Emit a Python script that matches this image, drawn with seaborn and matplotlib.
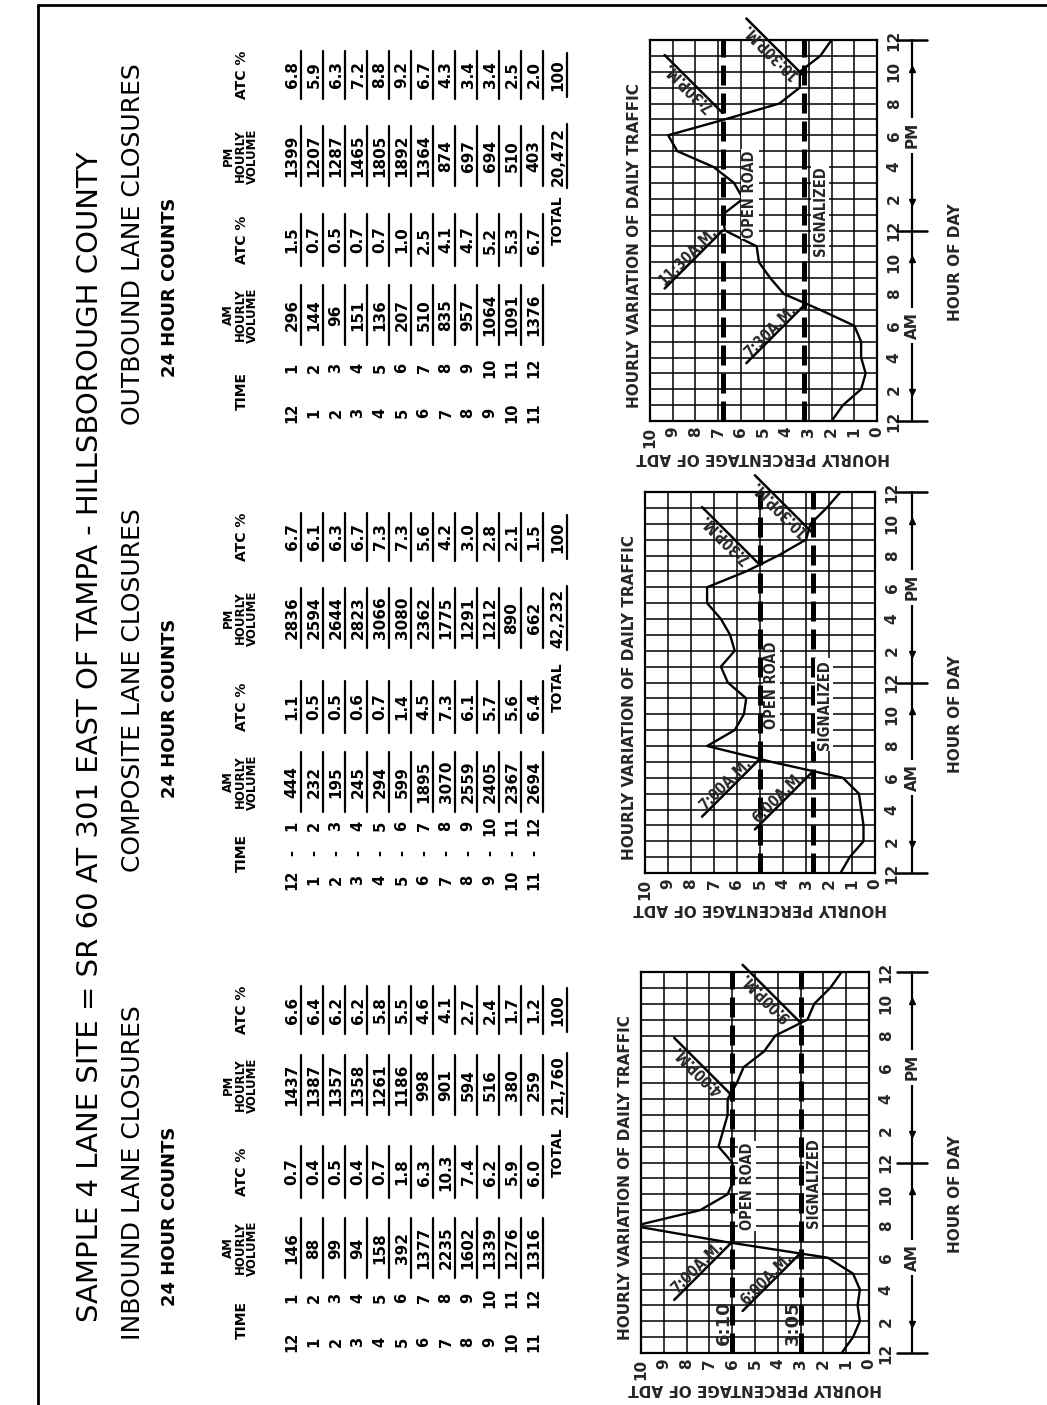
import numpy as np
import pandas as pd
import matplotlib
matplotlib.use("Agg")
import matplotlib.pyplot as plt
import seaborn as sns
from matplotlib.transforms import blended_transform_factory

# ---- data ----
time_start = [12, 1, 2, 3, 4, 5, 6, 7, 8, 9, 10, 11]
time_end = [1, 2, 3, 4, 5, 6, 7, 8, 9, 10, 11, 12]

in_am_vol = [146, 88, 99, 94, 158, 392, 1377, 2235, 1602, 1339, 1276, 1316]
in_am_pct = [0.7, 0.4, 0.5, 0.4, 0.7, 1.8, 6.3, 10.3, 7.4, 6.2, 5.9, 6.0]
in_pm_vol = [1437, 1387, 1357, 1358, 1261, 1186, 998, 901, 594, 516, 380, 259]
in_pm_pct = [6.6, 6.4, 6.2, 6.2, 5.8, 5.5, 4.6, 4.1, 2.7, 2.4, 1.7, 1.2]
in_total = "21,760"

co_am_vol = [444, 232, 195, 245, 294, 599, 1895, 3070, 2559, 2405, 2367, 2694]
co_am_pct = [1.1, 0.5, 0.5, 0.6, 0.7, 1.4, 4.5, 7.3, 6.1, 5.7, 5.6, 6.4]
co_pm_vol = [2836, 2594, 2644, 2823, 3066, 3080, 2362, 1775, 1291, 1212, 890, 662]
co_pm_pct = [6.7, 6.1, 6.3, 6.7, 7.3, 7.3, 5.6, 4.2, 3.0, 2.8, 2.1, 1.5]
co_total = "42,232"

out_am_vol = [296, 144, 96, 151, 136, 207, 510, 835, 957, 1064, 1091, 1376]
out_am_pct = [1.5, 0.7, 0.5, 0.7, 0.7, 1.0, 2.5, 4.1, 4.7, 5.2, 5.3, 6.7]
out_pm_vol = [1399, 1207, 1287, 1465, 1805, 1892, 1364, 874, 697, 694, 510, 403]
out_pm_pct = [6.8, 5.9, 6.3, 7.2, 8.8, 9.2, 6.7, 4.3, 3.4, 3.4, 2.5, 2.0]
out_total = "20,472"

hour_labels = ["12", "2", "4", "6", "8", "10", "12", "2", "4", "6", "8", "10", "12"]
pct_labels = ["0", "1", "2", "3", "4", "5", "6", "7", "8", "9", "10"]

# open road / signalized levels, and the marked crossing times
in_levels = [6.0, 3.0]
co_levels = [5.0, 2.7]
out_levels = [6.8, 3.2]
in_calls = ["7:00A.M.", "6:00A.M.", "4:00P.M.", "9:00P.M."]
co_calls = ["7:00A.M.", "6:00A.M.", "7:30P.M.", "10:30P.M."]
out_calls = ["11:30A.M.", "7:30A.M.", "7:30P.M.", "10:30P.M."]
# where each leader touches the curve (hour of day on the chart)
in_call_at = [7.0, 6.3, 16.2, 20.8]
co_call_at = [7.2, 6.4, 19.4, 21.4]
out_call_at = [12.0, 7.3, 19.4, 21.7]

W, H = 1047, 1405

sns.set_theme(style="white")
plt.rcParams["font.family"] = ["DejaVu Sans"]

fig = plt.figure(figsize=(W / 100, H / 100), dpi=100)
page = fig.add_axes([0, 0, 1, 1])
page.set_xlim(0, W)
page.set_ylim(H, 0)
page.axis("off")


def ptext(x, y, s, size, weight="bold", va="center", ha="center", rot=90, **kw):
    page.text(x, y, s, rotation=rot, fontsize=size, fontweight=weight,
              ha=ha, va=va, color="black", **kw)


# frame
page.plot([38, 38], [5, H], color="black", lw=2)
page.plot([38, W], [5, 5], color="black", lw=2)

# titles
ptext(90, 1322, "SAMPLE 4 LANE SITE = SR 60 AT 301 EAST OF TAMPA - HILLSBOROUGH COUNTY",
      21, weight="normal", va="bottom")
ptext(133, 1340, "INBOUND LANE CLOSURES", 18, weight="normal", va="bottom")
ptext(133, 872, "COMPOSITE LANE CLOSURES", 18, weight="normal", va="bottom")
ptext(133, 425, "OUTBOUND LANE CLOSURES", 18, weight="normal", va="bottom")
ptext(170, 1216, "24 HOUR COUNTS", 13)
ptext(170, 708, "24 HOUR COUNTS", 13)
ptext(170, 287, "24 HOUR COUNTS", 13)

ROW_X0, ROW_DX = 292, 22


def draw_table(cols, am_vol, am_pct, pm_vol, pm_pct, total, dash):
    t_start, t_end, c_am, c_amp, c_pm, c_pmp = cols
    ptext(242, (t_start + t_end) / 2, "TIME", 10)
    for c in (c_am, c_pm):
        ptext(228, c, "PM" if c == c_pm else "AM", 8.5)
        ptext(240, c, "HOURLY", 8.5)
        ptext(252, c, "VOLUME", 8.5)
    for c in (c_amp, c_pmp):
        ptext(242, c, "ATC %", 10)
    for i in range(12):
        x = ROW_X0 + i * ROW_DX
        ptext(x, t_start, str(time_start[i]), 10.5)
        ptext(x, t_end, str(time_end[i]), 10.5)
        if dash:
            ptext(x, (t_start + t_end) / 2, "-", 10.5)
        cells = [(c_am, str(am_vol[i]), 30), (c_amp, f"{am_pct[i]:.1f}", 26),
                 (c_pm, str(pm_vol[i]), 30), (c_pmp, f"{pm_pct[i]:.1f}", 24)]
        for yc, s, w in cells:
            ptext(x, yc, s, 11)
            page.plot([x + 9, x + 9], [yc - w, yc + w], color="black", lw=1.6)
    x = ROW_X0 + 12 * ROW_DX + 2
    ptext(x, c_amp - 20, "TOTAL", 10)
    ptext(x, c_pm, total, 11)
    ptext(x, c_pmp, "100", 11)
    page.plot([x + 9, x + 9], [c_pm - 32, c_pm + 32], color="black", lw=1.6)
    page.plot([x + 9, x + 9], [c_pmp - 22, c_pmp + 22], color="black", lw=1.6)


draw_table((1342, 1298, 1248, 1172, 1085, 1010), in_am_vol, in_am_pct,
           in_pm_vol, in_pm_pct, in_total, False)
draw_table((880, 826, 782, 707, 618, 537), co_am_vol, co_am_pct,
           co_pm_vol, co_pm_pct, co_total, True)
draw_table((413, 368, 315, 240, 156, 75), out_am_vol, out_am_pct,
           out_pm_vol, out_pm_pct, out_total, False)


def callout(ax, label, level, h):
    # evening labels lean up-left, morning ones down-left
    side = 1 if "P" in label else -1
    L = 58 * 0.72
    dx, dy = -L, side * L
    ax.annotate("", xy=(level, h), xytext=(dx, dy), textcoords="offset points",
                arrowprops=dict(arrowstyle="-", color="black", lw=1.8,
                                shrinkA=0, shrinkB=0))
    rot = 135 if side > 0 else 45
    ax.annotate(label, xy=(level, h), xytext=(dx / 2, dy / 2 + 1.5 * side),
                textcoords="offset points", rotation=rot, rotation_mode="anchor",
                ha="center", va="bottom", fontsize=10.5, fontweight="bold",
                fontstretch="condensed", annotation_clip=False)


def draw_chart(left, top, right, am_pct, pm_pct, levels, calls, call_at,
               road_at, sig_at, extra=None):
    ax = fig.add_axes([left / W, 1 - (top + 381) / H, (right - left) / W, 381 / H])
    hours = list(range(25))
    pct = [pm_pct[-1]] + am_pct + pm_pct
    df = pd.DataFrame({"hour": hours, "pct": pct})
    ax.set_xticks(range(11))
    ax.set_xticklabels(pct_labels, rotation=90, fontweight="bold", fontsize=11)
    ax.set_yticks(range(0, 25, 2))
    ax.set_yticklabels(hour_labels, rotation=90, fontweight="bold", fontsize=11,
                       va="center")
    ax.set_yticks(range(25), minor=True)
    ax.yaxis.tick_right()
    ax.tick_params(axis="x", which="both", length=0, pad=4)
    ax.tick_params(axis="y", which="both", length=0, pad=7)
    ax.grid(True, which="both", color="black", lw=1.1)
    for s in ax.spines.values():
        s.set_color("black")
        s.set_linewidth(1.6)
    ax.set_axisbelow(True)

    sns.lineplot(data=df, x="pct", y="hour", sort=False, orient="y",
                 estimator=None, color="black", lw=1.7, ax=ax)
    ax.set_xlabel("")
    ax.set_ylabel("")

    for lv in levels:
        ax.axvline(lv, color="black", lw=3.6, ls=(0, (4, 1.6)))
    ax.text(road_at[0], road_at[1], "OPEN ROAD", rotation=90, ha="center",
            va="center", fontsize=10.5, fontweight="bold", fontstretch="condensed",
            bbox=dict(fc="white", ec="none", pad=1))
    ax.text(sig_at[0], sig_at[1], "SIGNALIZED", rotation=90, ha="center",
            va="center", fontsize=10.5, fontweight="bold", fontstretch="condensed",
            bbox=dict(fc="white", ec="none", pad=1))
    for lab, lv, h in zip(calls, [levels[0], levels[1], levels[0], levels[1]], call_at):
        callout(ax, lab, lv, h)
    if extra:
        for lv, s in zip(levels, extra):
            ax.text(lv + 0.35, 1.9, s, rotation=90, ha="center", va="center",
                    fontsize=13, fontweight="bold")

    tr = blended_transform_factory(ax.transAxes, ax.transData)
    wpx = right - left
    ax.text(-16 / wpx, 0.8, "HOURLY VARIATION OF DAILY TRAFFIC", transform=tr,
            rotation=90, ha="center", va="bottom", fontsize=11, fontweight="bold")
    ax.text(0.5, -36 / 381, "HOURLY PERCENTAGE OF ADT", transform=ax.transAxes,
            rotation=180, ha="center", va="center", fontsize=11, fontweight="bold")
    ax.text((955 - left) / wpx, 10, "HOUR OF DAY", transform=tr, rotation=90,
            ha="center", va="center", fontsize=11, fontweight="bold")
    bx = (912 - left) / wpx
    bw = 15 / wpx
    ax.plot([bx, bx], [0, 24], transform=tr, clip_on=False, color="black", lw=1.6)
    for h in (0, 12, 24):
        ax.plot([bx - bw, bx + bw], [h, h], transform=tr, clip_on=False,
                color="black", lw=1.8)
    for h, m in ((1.8, "v"), (10.2, "^"), (13.8, "v"), (22.2, "^")):
        ax.plot([bx], [h], marker=m, ms=5, color="black", transform=tr, clip_on=False)
    for h, s in ((6, "AM"), (18, "PM")):
        ax.text(bx, h, s, transform=tr, rotation=90, ha="center", va="center",
                fontsize=11, fontweight="bold",
                bbox=dict(fc="white", ec="none", pad=3))
    ax.set_xlim(10, 0)
    ax.set_ylim(0, 24)
    return ax


draw_chart(650, 40, 877, out_am_pct, out_pm_pct, out_levels, out_calls, out_call_at,
           (5.6, 14.3), (2.5, 13.2))
draw_chart(645, 492, 875, co_am_pct, co_pm_pct, co_levels, co_calls, co_call_at,
           (4.5, 11.8), (2.2, 10.6))
draw_chart(641, 972, 869, in_am_pct, in_pm_pct, in_levels, in_calls, in_call_at,
           (5.35, 10.5), (2.45, 10.7), extra=["6:10", "3:05"])

fig.savefig("out.png", dpi=100)
